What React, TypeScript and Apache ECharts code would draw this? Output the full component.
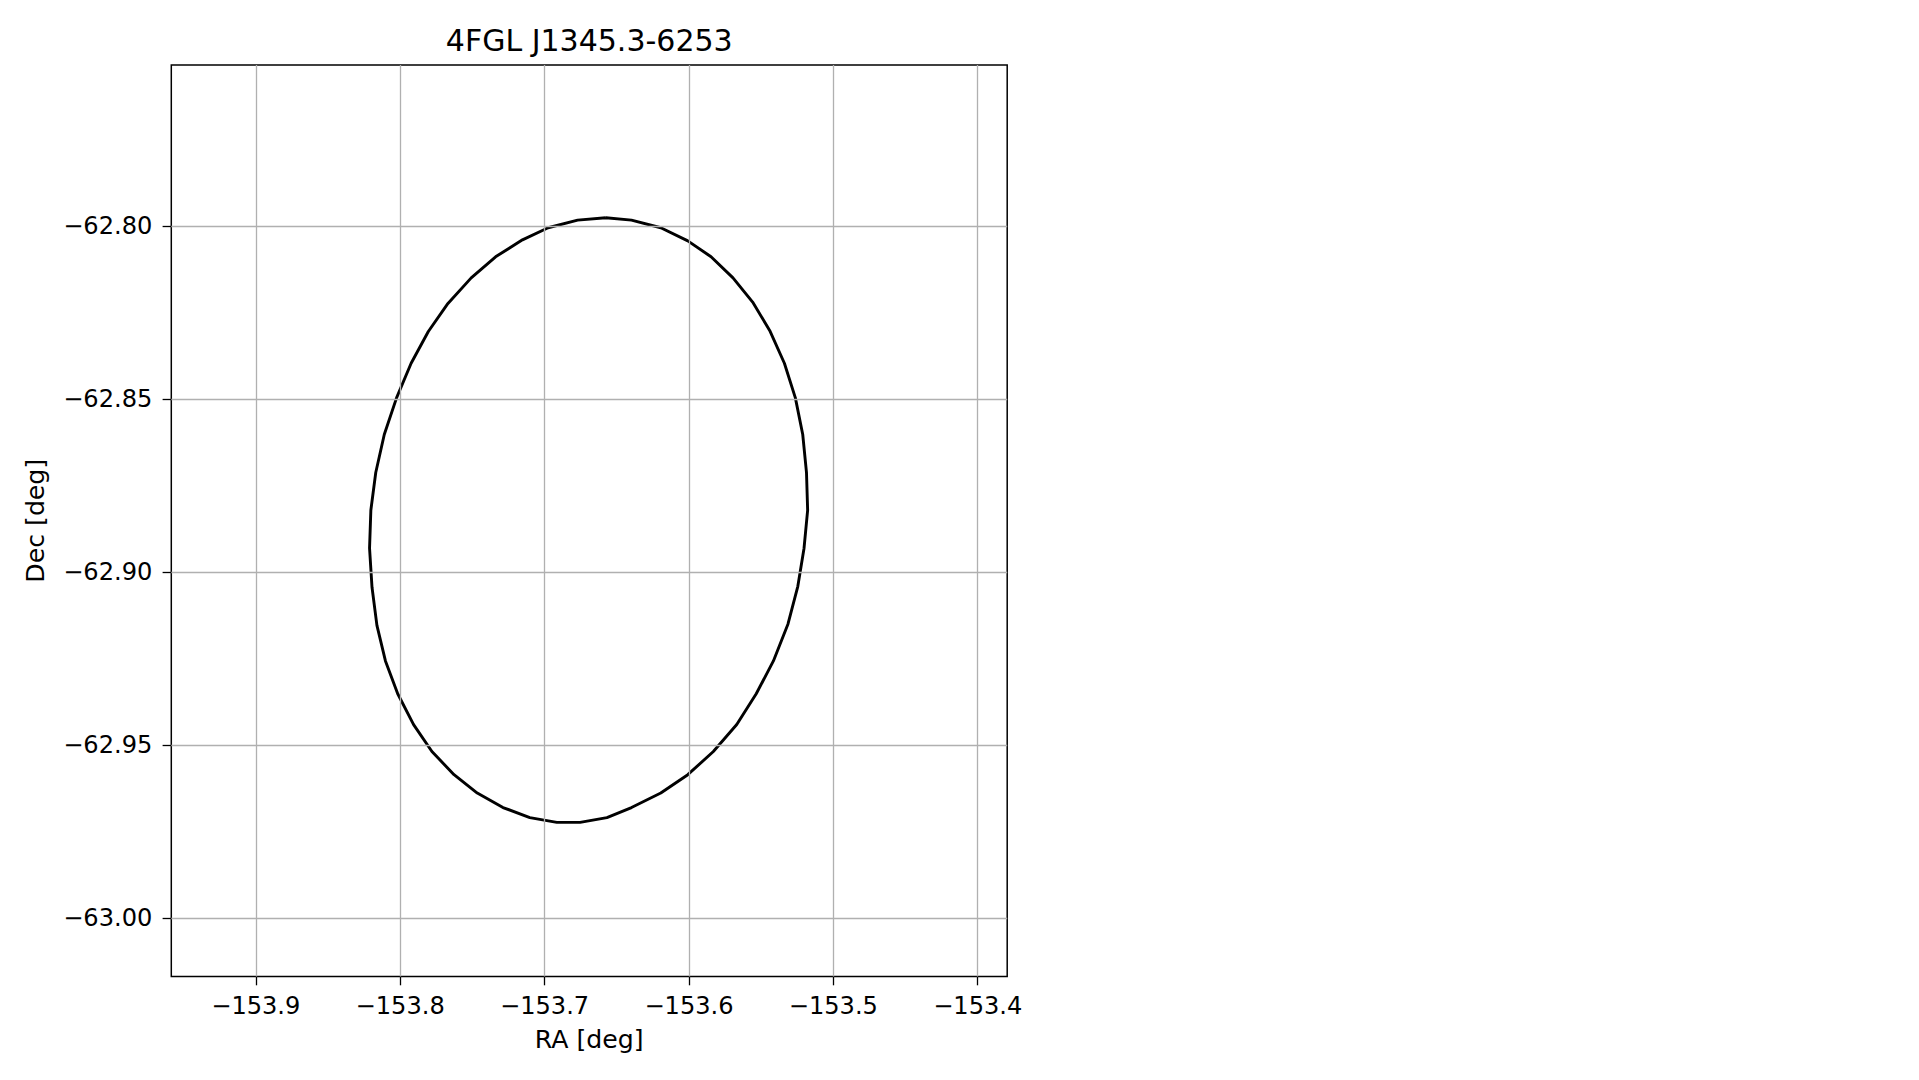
import React, { useEffect, useRef } from "react";
import * as echarts from "echarts";

// Error ellipse outline (RA, Dec in degrees)
const raDeg = [
  -153.6576, -153.6398, -153.6195, -153.6008, -153.5847, -153.5695, -153.5559, -153.5441,
  -153.5339, -153.5263, -153.5212, -153.5186, -153.5178, -153.5203, -153.5246, -153.5314,
  -153.5415, -153.5534, -153.5669, -153.5831, -153.6008, -153.6195, -153.6398, -153.6568,
  -153.6754, -153.6915, -153.7102, -153.7288, -153.7466, -153.7627, -153.7780, -153.7907,
  -153.8017, -153.8102, -153.8161, -153.8195, -153.8212, -153.8203, -153.8169, -153.8110,
  -153.8025, -153.7924, -153.7805, -153.7669, -153.7508, -153.7339, -153.7153, -153.6975,
  -153.6771, -153.6576,
];
const decDeg = [
  -62.7975, -62.7982, -62.8004, -62.8042, -62.8088, -62.8149, -62.8219, -62.8301,
  -62.8396, -62.8496, -62.8602, -62.8712, -62.8821, -62.8931, -62.9041, -62.9150,
  -62.9257, -62.9352, -62.9441, -62.9519, -62.9586, -62.9639, -62.9681, -62.9710,
  -62.9724, -62.9724, -62.9710, -62.9681, -62.9639, -62.9586, -62.9519, -62.9441,
  -62.9352, -62.9257, -62.9154, -62.9044, -62.8931, -62.8821, -62.8712, -62.8602,
  -62.8496, -62.8396, -62.8304, -62.8223, -62.8149, -62.8088, -62.8039, -62.8004,
  -62.7982, -62.7975,
];

const xTicks = [-153.9, -153.8, -153.7, -153.6, -153.5, -153.4];
const xTickLabels = ["\u2212153.9", "\u2212153.8", "\u2212153.7", "\u2212153.6", "\u2212153.5", "\u2212153.4"];
const yTicks = [-63.0, -62.95, -62.9, -62.85, -62.8];
const yTickLabels = ["\u221263.00", "\u221262.95", "\u221262.90", "\u221262.85", "\u221262.80"];

const xRange = [-153.9585, -153.3796];
const yRange = [-63.017, -62.7533];

const titleText = "4FGL J1345.3-6253";
const xName = "RA [deg]";
const yName = "Dec [deg]";

const FONT = "'DejaVu Sans', sans-serif";

function labelFor(ticks: number[], labels: string[], v: number) {
  let best = 0;
  let d = Infinity;
  ticks.forEach((t, i) => {
    const dd = Math.abs(t - v);
    if (dd < d) {
      d = dd;
      best = i;
    }
  });
  return labels[best];
}

export default function App() {
  const ref = useRef<HTMLDivElement>(null);
  useEffect(() => {
    if (!ref.current) return;
    const chart = echarts.init(ref.current, null, { renderer: "svg" });
    const gridLeft = 171.3;
    const gridTop = 64.9;
    const gridW = 1007.2 - 171.3;
    const gridH = 976.6 - 64.9;
    chart.setOption({
      animation: false,
      backgroundColor: "#ffffff",
      textStyle: { fontFamily: FONT },
      grid: {
        left: gridLeft,
        top: gridTop,
        width: gridW,
        height: gridH,
        show: true,
        borderColor: "#000000",
        borderWidth: 1.5,
        backgroundColor: "transparent",
        containLabel: false,
      },
      graphic: [
        {
          type: "text",
          x: gridLeft + gridW / 2,
          y: 40.4,
          style: {
            text: titleText,
            textAlign: "center",
            textVerticalAlign: "middle",
            fontFamily: FONT,
            fontSize: 30,
            fill: "#000000",
          },
        },
      ],
      xAxis: {
        type: "value",
        min: xRange[0],
        max: xRange[1],
        name: xName,
        nameLocation: "middle",
        nameGap: 50,
        nameTextStyle: { fontFamily: FONT, fontSize: 25.2, color: "#000000" },
        axisLine: { show: false },
        axisTick: {
          show: true,
          inside: false,
          length: 8.7,
          lineStyle: { color: "#000000", width: 1.3 },
          customValues: xTicks,
        },
        axisLabel: {
          customValues: xTicks,
          formatter: (v: number) => labelFor(xTicks, xTickLabels, v),
          fontFamily: FONT,
          fontSize: 24.1,
          color: "#000000",
          margin: 17,
        },
        splitLine: { show: false },
      },
      yAxis: {
        type: "value",
        min: yRange[0],
        max: yRange[1],
        name: yName,
        nameLocation: "middle",
        nameGap: 123,
        nameRotate: 90,
        nameTextStyle: { fontFamily: FONT, fontSize: 25.2, color: "#000000" },
        axisLine: { show: false },
        axisTick: {
          show: true,
          inside: false,
          length: 8.7,
          lineStyle: { color: "#000000", width: 1.3 },
          customValues: yTicks,
        },
        axisLabel: {
          customValues: yTicks,
          formatter: (v: number) => labelFor(yTicks, yTickLabels, v),
          fontFamily: FONT,
          fontSize: 24.1,
          color: "#000000",
          margin: 19,
        },
        splitLine: { show: false },
      },
      series: [
        {
          type: "line",
          name: "grid",
          data: [],
          z: 1,
          silent: true,
          markLine: {
            silent: true,
            symbol: ["none", "none"],
            label: { show: false },
            lineStyle: { color: "#b0b0b0", width: 1.3, type: "solid" },
            emphasis: { disabled: true },
            data: [
              ...xTicks.map((v) => ({ xAxis: v })),
              ...yTicks.map((v) => ({ yAxis: v })),
            ],
          },
        },
        {
          type: "line",
          name: "ellipse",
          z: 3,
          showSymbol: false,
          symbol: "none",
          silent: true,
          lineStyle: { color: "#000000", width: 2.9 },
          data: raDeg.map((r, i) => [r, decDeg[i]]),
        },
      ],
    });
    return () => chart.dispose();
  }, []);
  return (
    <div
      ref={ref}
      style={{ position: "absolute", left: 0, top: 0, width: 1919, height: 1080 }}
    />
  );
}
